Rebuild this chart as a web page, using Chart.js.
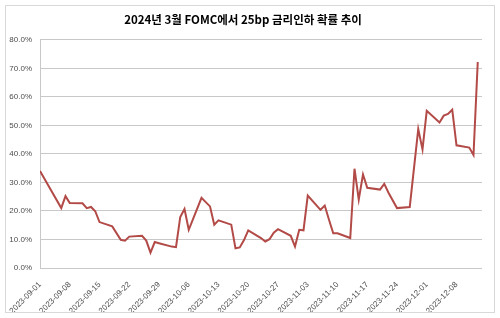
<!DOCTYPE html>
<html>
<head>
<meta charset="utf-8">
<script src="https://cdn.jsdelivr.net/npm/chart.js@4"></script>
<style>
  html, body { margin: 0; padding: 0; background: #fff; }
  #wrap { width: 500px; height: 318px; }
</style>
</head>
<body>
<div id="wrap"><canvas id="fomcChart" width="500" height="318"></canvas></div>
<script>
// observation days and 25bp-cut probability (%) for the March 2024 FOMC
const dates = [
  '2023-09-01', '2023-09-06', '2023-09-07', '2023-09-08', '2023-09-11', '2023-09-12', '2023-09-13', '2023-09-14', '2023-09-15',
  '2023-09-18', '2023-09-20', '2023-09-21', '2023-09-22', '2023-09-25', '2023-09-26', '2023-09-27', '2023-09-28', '2023-09-29',
  '2023-10-02', '2023-10-03', '2023-10-04', '2023-10-05', '2023-10-06', '2023-10-09', '2023-10-10', '2023-10-11', '2023-10-12', '2023-10-13',
  '2023-10-16', '2023-10-17', '2023-10-18', '2023-10-19', '2023-10-20', '2023-10-23', '2023-10-24', '2023-10-25', '2023-10-26', '2023-10-27',
  '2023-10-30', '2023-10-31', '2023-11-01', '2023-11-02', '2023-11-03', '2023-11-06', '2023-11-07', '2023-11-08', '2023-11-09', '2023-11-10',
  '2023-11-13', '2023-11-14', '2023-11-15', '2023-11-16', '2023-11-17', '2023-11-20', '2023-11-21', '2023-11-22', '2023-11-24',
  '2023-11-27', '2023-11-29', '2023-11-30', '2023-12-01', '2023-12-04', '2023-12-05', '2023-12-06', '2023-12-07', '2023-12-08',
  '2023-12-11', '2023-12-12', '2023-12-13'
];
const probability = [
  34.0, 21.0, 25.2, 22.8, 22.7, 21.0, 21.4, 19.9, 16.1,
  14.6, 9.9, 9.6, 11.0, 11.3, 9.6, 5.4, 9.1, 8.7,
  7.5, 7.3, 17.9, 20.7, 13.4, 24.6, 23.1, 21.6, 15.2, 16.7,
  15.2, 6.9, 7.2, 9.8, 13.2, 10.5, 9.3, 10.1, 12.4, 13.6,
  11.3, 7.5, 13.4, 13.2, 25.4, 20.4, 21.9, 16.9, 12.2, 12.2,
  10.5, 34.8, 24.0, 32.8, 28.1, 27.5, 29.5, 26.4, 21.0,
  21.4, 48.7, 41.6, 55.1, 51.0, 53.4, 54.0, 55.5, 43.0,
  42.2, 39.6, 72.2
];
const tickLabels = [
  '2023-09-01', '2023-09-08', '2023-09-15', '2023-09-22', '2023-09-29', '2023-10-06', '2023-10-13', '2023-10-20',
  '2023-10-27', '2023-11-03', '2023-11-10', '2023-11-17', '2023-11-24', '2023-12-01', '2023-12-08'
];
const titleText = '2024년 3월 FOMC에서 25bp 금리인하 확률 추이';

const DAY = 24 * 3600 * 1000;
const start = Date.parse(dates[0]);
const points = dates.map((d, i) => ({ x: Math.round((Date.parse(d) - start) / DAY), y: probability[i] }));

const frame = {
  id: 'frame',
  afterDraw(chart) {
    const c = chart.ctx;
    c.save();
    c.strokeStyle = '#d9d9d9';
    c.lineWidth = 1;
    c.strokeRect(5.5, 5.5, chart.width - 11, chart.height - 11);
    c.restore();
  }
};

const labelFont = { family: 'Liberation Sans', size: 8 };

new Chart(document.getElementById('fomcChart'), {
  type: 'line',
  data: {
    datasets: [{
      data: points,
      borderColor: '#b24a47',
      borderWidth: 2,
      pointRadius: 0,
      tension: 0,
      fill: false
    }]
  },
  options: {
    responsive: false,
    animation: false,
    layout: { padding: { left: 4, right: 18, top: 0, bottom: 6 } },
    plugins: {
      legend: { display: false },
      tooltip: { enabled: false },
      title: {
        display: true,
        text: titleText,
        color: '#000',
        font: { family: 'Noto Sans CJK KR', size: 11.5, weight: 'bold' },
        padding: { top: 13, bottom: 13 }
      }
    },
    scales: {
      x: {
        type: 'linear',
        min: 0,
        max: 104,
        grid: { display: false },
        border: { display: false },
        afterFit(scale) { scale.height = 44; },
        ticks: {
          stepSize: 7,
          includeBounds: false,
          autoSkip: false,
          maxRotation: 45,
          minRotation: 45,
          padding: 4,
          color: '#4d4d4d',
          font: labelFont,
          callback: v => tickLabels[v / 7] || ''
        }
      },
      y: {
        min: 0,
        max: 80,
        afterFit(scale) { scale.width = 36; },
        grid: { color: '#c8c8c8', drawTicks: false },
        border: { display: true, color: '#c8c8c8' },
        ticks: {
          stepSize: 10,
          padding: 8,
          color: '#4d4d4d',
          font: labelFont,
          callback: v => v.toFixed(1) + '%'
        }
      }
    }
  },
  plugins: [frame]
});
</script>
</body>
</html>
